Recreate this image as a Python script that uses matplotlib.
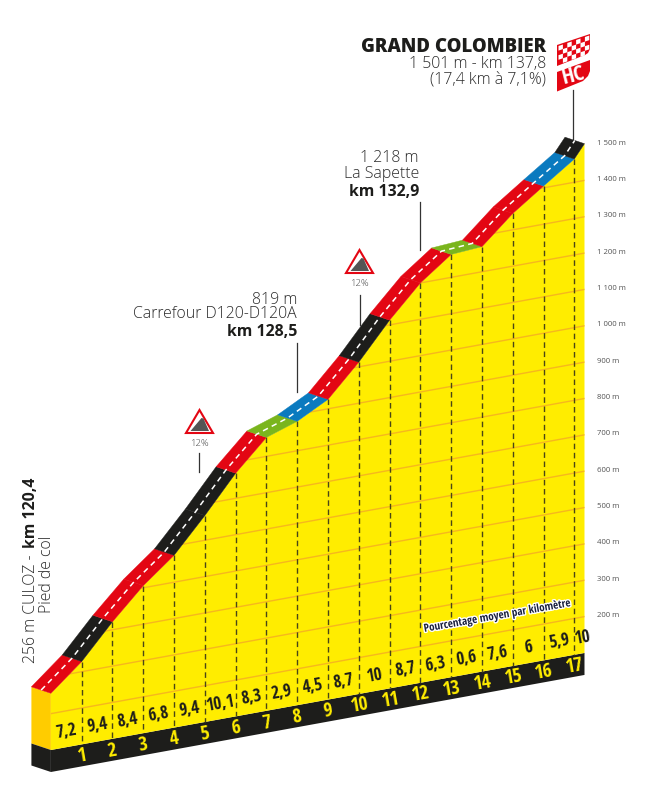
import matplotlib
matplotlib.use('Agg')
import matplotlib.pyplot as plt
from matplotlib.patches import Polygon
from matplotlib.transforms import Affine2D
import matplotlib.patheffects as pe
import logging

logging.getLogger('matplotlib.font_manager').setLevel(logging.ERROR)

# profil du col
km = [0, 1, 2, 3, 4, 5, 6, 7, 8, 9, 10, 11, 12, 13, 14, 15, 16, 17, 17.33]
alt = [256, 328, 422, 506, 574, 668, 769, 852, 881, 926, 1013, 1113, 1200, 1263, 1269, 1345, 1405, 1464, 1501]
pct = ['7,2', '9,4', '8,4', '6,8', '9,4', '10,1', '8,3', '2,9', '4,5', '8,7', '10', '8,7', '6,3', '0,6', '7,6', '6', '5,9', '10']
km_labels = ['1', '2', '3', '4', '5', '6', '7', '8', '9', '10', '11', '12', '13', '14', '15', '16', '17']
alt_ticks = [200, 300, 400, 500, 600, 700, 800, 900, 1000, 1100, 1200, 1300, 1400, 1500]
alt_labels = ['200 m', '300 m', '400 m', '500 m', '600 m', '700 m', '800 m', '900 m', '1 000 m', '1 100 m', '1 200 m', '1 300 m', '1 400 m', '1 500 m']

RED = '#E30613'
BLACK = '#1D1D1B'
GREEN = '#7AB51D'
BLUE = '#0A7ABF'
YELLOW = '#FFED00'
GOLD = '#FFCC00'
seg_colors = [RED, BLACK, RED, RED, BLACK, BLACK, RED, GREEN, BLUE, RED, BLACK, RED, RED, GREEN, RED, RED, BLUE, BLACK]

SANS = ['Open Sans', 'DejaVu Sans']
NARROW = ['Open Sans Condensed', 'Asap Condensed', 'Roboto Condensed', 'Archivo Narrow', 'Roboto', 'DejaVu Sans']
GREY = '#2B2B2B'

fig = plt.figure(figsize=(6.54, 7.98), dpi=100)
ax = fig.add_axes([0, 0, 1, 1])
ax.set_xlim(0, 654)
ax.set_ylim(798, 0)
ax.axis('off')

# km / altitude vers pixels, la base monte vers la droite
tr = Affine2D.from_values(30.79, -5.6, 0, -0.3635, 50.9, 786.35) + ax.transData
base = 100
floor = 39.5
dk = -0.633   # profondeur de la route
da = 27.6
end = km[-1]

# faces
ax.add_patch(Polygon([(dk, base + da), (0, base), (0, alt[0]), (dk, alt[0] + da)], fc=GOLD, ec='none', transform=tr, zorder=1))
ax.add_patch(Polygon([(dk, base + da), (0, base), (0, floor), (dk, floor + da)], fc=BLACK, ec='none', transform=tr, zorder=1))
ax.add_patch(Polygon([(0, base), (end, base), (end, floor), (0, floor)], fc=BLACK, ec='none', transform=tr, zorder=1))
front = Polygon(list(zip(km, alt)) + [(end, base), (0, base)], fc=YELLOW, ec='none', transform=tr, zorder=1)
ax.add_patch(front)

# grille
for a in alt_ticks:
    if a == 1500:
        continue
    l, = ax.plot([0, end], [a, a], color='#F6B71E', lw=1.0, transform=tr, zorder=2)
    l.set_clip_path(front)

# repères km
for i in range(1, 18):
    ax.plot([km[i], km[i]], [alt[i], base], color='#4A4616', lw=1, dashes=(4, 2.6), transform=tr, zorder=3)

# route
for i in range(len(seg_colors)):
    ax.add_patch(Polygon([(km[i], alt[i]), (km[i + 1], alt[i + 1]), (km[i + 1] + dk, alt[i + 1] + da), (km[i] + dk, alt[i] + da)],
                         fc=seg_colors[i], ec=seg_colors[i], lw=0.3, transform=tr, zorder=4))
ax.plot([k + dk / 2 for k in km], [a + da / 2 for a in alt], color='white', lw=1.1, dashes=(3.6, 2.8), transform=tr, zorder=5)

# pourcentages et numéros de km
for i in range(len(pct)):
    mid = (km[i] + km[i + 1]) / 2
    if i == len(pct) - 1:
        mid = km[i] + 0.26
    ax.annotate(pct[i], xy=(mid, base), xycoords=tr, xytext=(0, 16), textcoords='offset pixels', ha='center', va='center',
                rotation=10, rotation_mode='anchor', family=NARROW, weight='bold', fontsize=12.5, color=BLACK, zorder=6)
for i in range(len(km_labels)):
    ax.annotate(km_labels[i], xy=(km[i + 1], base), xycoords=tr, xytext=(0, -12), textcoords='offset pixels', ha='center', va='center',
                rotation=10, rotation_mode='anchor', family=NARROW, weight='bold', fontsize=14, color=YELLOW, zorder=6)

# échelle d'altitude
for a, lab in zip(alt_ticks, alt_labels):
    ax.annotate(lab, xy=(17.5, a), xycoords=tr, xytext=(7, 0), textcoords='offset pixels', ha='left', va='center',
                family=SANS, fontsize=5.6, color='#555555')

ax.text(497.5, 616.5, 'Pourcentage moyen par kilomètre', rotation=10, rotation_mode='anchor', ha='center', va='center',
        family=NARROW, weight='bold', fontsize=8, color='#1B2240', zorder=6,
        path_effects=[pe.withStroke(linewidth=2, foreground='white')])

# textes
ax.text(546, 47, 'GRAND COLOMBIER', ha='right', va='center', family=SANS, weight=800, fontsize=13.4, color=BLACK)
ax.text(546, 64, '1 501 m - km 137,8', ha='right', va='center', family=SANS, weight=300, fontsize=11.4, color=GREY)
ax.text(546, 80.5, '(17,4 km à 7,1%)', ha='right', va='center', family=SANS, weight=300, fontsize=11.4, color=GREY)

ax.text(419, 157.5, '1 218 m', ha='right', va='center', family=SANS, weight=300, fontsize=11.4, color=GREY)
ax.text(419, 173.5, 'La Sapette', ha='right', va='center', family=SANS, weight=300, fontsize=11.4, color=GREY)
ax.text(419, 191.5, 'km 132,9', ha='right', va='center', family=SANS, weight='bold', fontsize=11.4, color=BLACK)

ax.text(297, 299.5, '819 m', ha='right', va='center', family=SANS, weight=300, fontsize=11.4, color=GREY)
ax.text(297, 314.5, 'Carrefour D120-D120A', ha='right', va='center', family=SANS, weight=300, fontsize=11.4, color=GREY)
ax.text(297, 332.5, 'km 128,5', ha='right', va='center', family=SANS, weight='bold', fontsize=11.4, color=BLACK)

ax.text(31, 663, '256 m CULOZ - ', rotation=90, ha='center', va='bottom', family=SANS, weight=300, fontsize=11.4, color=GREY)
ax.text(31, 478, 'km 120,4', rotation=90, ha='center', va='top', family=SANS, weight='bold', fontsize=11.4, color=BLACK)
ax.text(47, 613, 'Pied de col', rotation=90, ha='center', va='bottom', family=SANS, weight=300, fontsize=11.4, color=GREY)

# traits de rappel
for x, y0, y1 in [(573, 90, 139), (419.5, 202, 250), (297, 343, 392), (199, 453, 472), (359.5, 295, 325)]:
    ax.plot([x, x], [y0, y1], color='#333333', lw=0.9, zorder=3)


def danger(cx, top):
    # panneau triangle 12%
    ax.add_patch(Polygon([(cx, top + 2), (cx - 13.5, top + 25), (cx + 13.5, top + 25)], fc='white', ec=RED, lw=1.5, joinstyle='miter', zorder=6))
    ax.add_patch(Polygon([(cx - 9, top + 23), (cx + 2, top + 10), (cx + 4, top + 10.5), (cx + 9.5, top + 23)], fc='#555555', ec='none', zorder=7))
    ax.text(cx, top + 35, '12%', ha='center', va='center', family=SANS, weight=300, fontsize=6.8, color='#444444')


danger(199.5, 408)
danger(359.5, 248)

# drapeau et panneau HC
flag = Polygon([(557, 45), (590, 34), (590, 49), (588, 53), (585, 55), (557, 66)], fc=RED, ec='none', zorder=6)
ax.add_patch(flag)
for r in range(4):
    for c in range(7):
        if (r + c) % 2 == 0:
            x0 = 558.5 + c * 4.4
            y0 = 46.5 + r * 4.6 - (x0 - 557) * 0.34
            s = Polygon([(x0, y0), (x0 + 4.4, y0 - 1.5), (x0 + 4.4, y0 + 3.1), (x0, y0 + 4.6)], fc='white', ec='none', zorder=7)
            ax.add_patch(s)
ax.add_patch(Polygon([(557, 72), (590, 60), (590, 71), (588, 76), (583, 81), (557, 91.5)], fc=RED, ec='none', zorder=6))
ax.text(573, 76, 'HC', rotation=14, rotation_mode='anchor', ha='center', va='center', family=NARROW, weight='bold', fontsize=16, color='white', zorder=7)

fig.savefig('out.png', dpi=100)
